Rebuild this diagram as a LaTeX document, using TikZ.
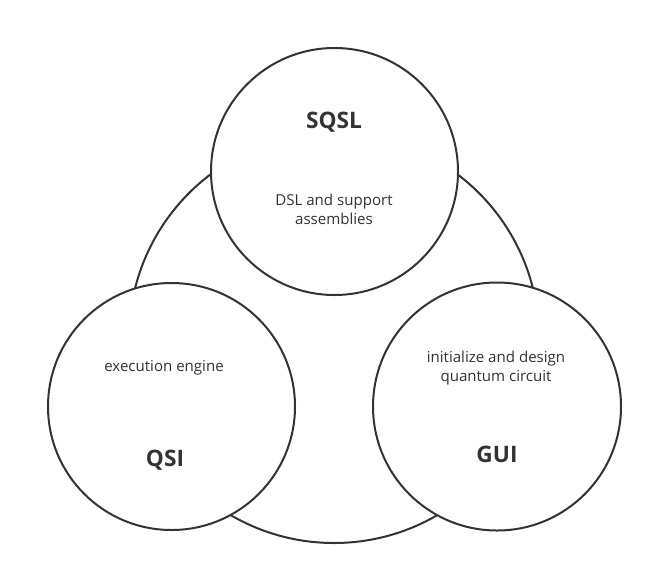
\documentclass[tikz,border=0pt]{standalone}
\usepackage{fontspec}
\setmainfont{Open Sans}
\begin{document}
\begin{tikzpicture}[x=0.75pt,y=-0.75pt,
  ring/.style={circle,draw=black!80,line width=1.5pt,fill=white,inner sep=0pt},
  title/.style={font=\fontsize{17}{20}\selectfont\bfseries,text=black!80},
  desc/.style={font=\fontsize{11.3}{14.2}\selectfont,text=black!80,align=center}]
\useasboundingbox (0,0) rectangle (652,575);
\node[ring,minimum size=410*0.75pt,fill=none] (big) at (334,338) {};
\node[ring,minimum size=247*0.75pt] (sqsl) at (334.5,171.5) {};
\node[ring,minimum size=247*0.75pt] (qsi) at (171.5,406.5) {};
\node[ring,minimum size=248*0.75pt] (gui) at (497,406.5) {};
\node[title] (tsqsl) at (334,122) {SQSL};
\node[desc] (dsqsl) at (334,209) {DSL and support\\assemblies};
\node[desc] (dqsi) at (164,368) {execution engine};
\node[title] (tqsi) at (165,460) {QSI};
\node[desc] (dgui) at (496,368) {initialize and design\\quantum circuit};
\node[title] (tgui) at (497,454) {GUI};
\end{tikzpicture}
\end{document}
